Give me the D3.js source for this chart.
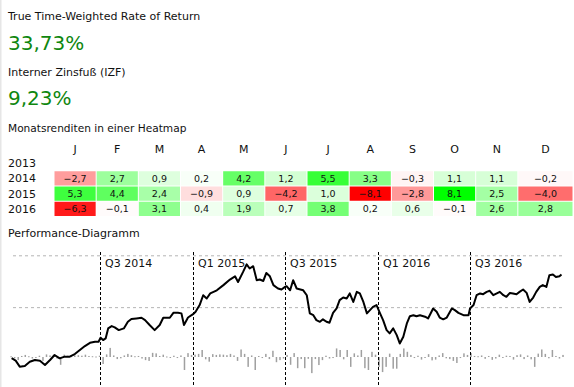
<!DOCTYPE html>
<html>
<head>
<meta charset="utf-8">
<script src="https://cdn.jsdelivr.net/npm/d3@7"></script>
<style>
    body { margin: 0; background: #fff; }
    text { font-family: "Lucida Grande", "DejaVu Sans", sans-serif; }
</style>
</head>
<body>
<div id="chart"></div>
<script>
// Kennzahlen
let ttwrorLabel = "True Time-Weighted Rate of Return";
let ttwrorValue = "33,73%";
let izfLabel = "Interner Zinsfuß (IZF)";
let izfValue = "9,23%";

// Heatmap
let months = ["J", "F", "M", "A", "M", "J", "J", "A", "S", "O", "N", "D"];
let years = [2013, 2014, 2015, 2016];
let returns2014 = [-2.7, 2.7, 0.9, 0.2, 4.2, 1.2, 5.5, 3.3, -0.3, 1.1, 1.1, -0.2];
let returns2015 = [5.3, 4.4, 2.4, -0.9, 0.9, -4.2, 1.0, -8.1, -2.8, 8.1, 2.5, -4.0];
let returns2016 = [-6.3, -0.1, 3.1, 0.4, 1.9, 0.7, 3.8, 0.2, 0.6, -0.1, 2.6, 2.8];

// Performance-Diagramm (kumulierte Rendite in %)
let perfDates = ["2014-01-07","2014-01-15","2014-01-23","2014-02-02","2014-02-12","2014-02-22","2014-03-04","2014-03-14",
    "2014-03-24","2014-04-02","2014-04-12","2014-04-22","2014-05-02","2014-05-12","2014-05-22","2014-06-01","2014-06-11",
    "2014-06-21","2014-06-28","2014-07-02","2014-07-07","2014-07-12","2014-07-17","2014-07-24","2014-07-30","2014-08-07",
    "2014-08-17","2014-08-25","2014-09-01","2014-09-11","2014-09-21","2014-09-28","2014-10-07","2014-10-17","2014-10-27",
    "2014-11-03","2014-11-16","2014-11-23","2014-12-02","2014-12-09","2014-12-14","2014-12-22","2015-01-01","2015-01-06",
    "2015-01-14","2015-01-21","2015-01-28","2015-02-04","2015-02-17","2015-03-02","2015-03-15","2015-03-25","2015-03-31",
    "2015-04-10","2015-04-17","2015-04-23","2015-04-30","2015-05-07","2015-05-13","2015-05-20","2015-05-26","2015-06-02",
    "2015-06-09","2015-06-18","2015-06-25","2015-07-02","2015-07-05","2015-07-12","2015-07-18","2015-07-25","2015-08-07",
    "2015-08-14","2015-08-20","2015-08-27","2015-09-02","2015-09-09","2015-09-15","2015-09-22","2015-09-28","2015-10-05",
    "2015-10-12","2015-10-18","2015-10-25","2015-11-01","2015-11-07","2015-11-14","2015-11-21","2015-11-27","2015-12-04",
    "2015-12-11","2015-12-17","2015-12-23","2015-12-30","2016-01-06","2016-01-12","2016-01-19","2016-01-25","2016-02-01",
    "2016-02-08","2016-02-14","2016-02-21","2016-02-28","2016-03-05","2016-03-12","2016-03-18","2016-03-25","2016-04-04",
    "2016-04-10","2016-04-20","2016-04-27","2016-05-03","2016-05-10","2016-05-17","2016-05-27","2016-06-02","2016-06-09",
    "2016-06-19","2016-06-29","2016-07-02","2016-07-09","2016-07-15","2016-07-22","2016-07-28","2016-08-04","2016-08-10",
    "2016-08-17","2016-08-24","2016-08-30","2016-09-06","2016-09-12","2016-09-19","2016-09-25","2016-10-02","2016-10-08",
    "2016-10-15","2016-10-22","2016-10-28","2016-11-04","2016-11-10","2016-11-17","2016-11-23","2016-11-30","2016-12-06",
    "2016-12-13","2016-12-19","2016-12-26","2016-12-30"];
let perfValues = [0.3,-0.65,-2.95,-2.7,-1.05,-0.4,-0.65,-2.3,
    -0.4,1.55,0.25,0.9,0.9,1.9,3.45,5.0,6.25,
    6.65,6.65,8.2,7.3,7.95,11.8,12.7,12.2,11.15,
    11.8,14.35,15.4,15.65,15.9,15.0,13.1,11.15,13.1,
    15.9,15.9,17.8,17.8,17.6,13.1,16.0,17.3,18.2,
    20.8,24.6,23.35,25.3,26.5,28.5,30.65,31.9,29.7,
    33.6,36.5,34.9,35.8,30.4,30.65,30.1,33.2,31.9,
    28.5,27.2,26.8,27.8,28.1,26.5,30.4,27.2,26.5,
    24.6,17.6,16.9,15.0,14.35,15.3,14.35,14.0,17.8,
    19.5,22.7,23.7,23.35,25.3,22.0,25.9,25.3,22.0,
    17.6,18.85,20.1,20.8,17.6,15.0,11.15,9.9,11.8,
    9.2,6.0,8.6,13.7,16.5,16.9,16.5,16.9,16.3,
    15.65,19.5,18.2,16.0,15.3,16.0,19.5,18.85,17.8,
    16.9,16.9,19.5,20.8,24.6,25.3,25.0,25.9,26.3,
    24.6,25.3,25.9,24.6,24.0,25.5,25.3,25.0,25.9,
    26.8,25.5,22.0,23.7,25.9,27.8,28.5,27.8,32.3,
    32.6,31.65,31.9,32.6];

// Wochenrenditen in % (graue Balken), ab der ersten Januarwoche 2014
let weekStart = "2014-01-06";
let weeklyReturns = [0.3,-0.5,-1.2,0.4,0.8,0.3,-0.6,-0.4,0.5,-1.5,
    1.0,0.6,0.8,-0.6,-3.0,0.9,0.5,0.3,0.6,0.7,
    0.5,0.9,0.4,0.3,0.2,0.5,-2.7,1.0,3.5,0.6,
    -0.8,-0.5,0.6,1.2,0.7,0.3,0.4,-0.6,-1.2,-1.5,
    1.6,1.4,0.4,0.9,0.2,-0.3,0.5,-0.4,0.6,-5.0,
    1.5,0.8,0.9,1.2,2.7,-0.9,-1.8,1.1,0.8,1.0,
    0.9,0.7,1.2,0.6,-1.5,2.9,1.2,-3.8,0.6,-5.0,
    0.4,-0.4,1.2,-0.8,2.4,-2.0,-1.2,-0.6,0.8,-3.0,
    1.5,-4.3,-0.8,-4.3,-0.7,-6.2,-0.8,-3.1,-1.2,0.5,
    -0.6,-0.4,3.3,2.7,-0.9,2.7,-3.8,1.4,0.6,2.7,
    -4.3,-5.0,2.0,0.9,-3.8,-5.8,-3.8,1.3,-4.5,-4.5,
    1.2,3.3,2.0,0.8,-0.4,0.5,-1.0,-0.3,1.1,-1.3,
    -1.0,0.6,1.5,-0.5,-0.8,-1.5,-2.3,-0.4,1.4,0.8,
    1.5,0.4,0.3,0.6,-0.7,0.4,-1.1,-0.6,0.9,-0.3,
    0.5,0.4,-1.0,0.7,1.0,-0.8,0.6,-0.9,-3.8,1.3,
    2.9,1.2,-0.5,2.7,0.4,-0.6,0.8];

let quarterDates = ["2014-07-01", "2015-01-01", "2015-07-01", "2016-01-01", "2016-07-01"];
let quarterLabels = ["Q3 2014", "Q1 2015", "Q3 2015", "Q1 2016", "Q3 2016"];
let gridValues = [20, 40];


let parseDate = d3.timeParse("%Y-%m-%d");
let width = 574, height = 387;

let svg = d3.select("#chart").append("svg")
    .attr("width", width)
    .attr("height", height);

// hellgrauer Rand links
svg.append("rect")
    .attr("x", 0).attr("y", 0)
    .attr("width", 1.5).attr("height", height)
    .attr("fill", "#e6e6e6");


/* * * * * * * * * * * * * *
*       Kennzahlen          *
* * * * * * * * * * * * * */

svg.append("text").attr("x", 8).attr("y", 20)
    .attr("font-size", 11).attr("fill", "#111").text(ttwrorLabel);
svg.append("text").attr("x", 8).attr("y", 50)
    .attr("font-size", 20).attr("fill", "#0f870f").text(ttwrorValue);
svg.append("text").attr("x", 8).attr("y", 76)
    .attr("font-size", 11).attr("fill", "#111").text(izfLabel);
svg.append("text").attr("x", 8).attr("y", 105)
    .attr("font-size", 20).attr("fill", "#0f870f").text(izfValue);


/* * * * * * * * * * * * * *
*       Heatmap             *
* * * * * * * * * * * * * */

svg.append("text").attr("x", 8).attr("y", 132)
    .attr("font-size", 10.6).attr("fill", "#111").text("Monatsrenditen in einer Heatmap");

let monthIdx = d3.range(months.length);
let xCol = d3.scaleBand().domain(monthIdx).range([54, 560]);
let yRow = d3.scaleBand().domain(years).range([155.5, 216.5]);

// letzte Spalte fuellt die Tabelle bis zum rechten Rand
let colLeft = i => xCol(i);
let colRight = i => i === months.length - 1 ? 573 : xCol(i) + xCol.bandwidth();

let heatColor = d3.scaleLinear()
    .domain([-7, 0, 7])
    .range(["#ff0000", "#ffffff", "#00ff00"])
    .clamp(true);

svg.append("g").selectAll("text")
    .data(monthIdx)
    .join("text")
    .attr("x", i => (colLeft(i) + colRight(i)) / 2)
    .attr("y", 153)
    .attr("text-anchor", "middle")
    .attr("font-size", 11)
    .attr("fill", "#111")
    .text(i => months[i]);

svg.append("g").selectAll("text")
    .data(years)
    .join("text")
    .attr("x", 8)
    .attr("y", d => yRow(d) + yRow.bandwidth() / 2 + 4)
    .attr("font-size", 11)
    .attr("fill", "#111")
    .text(d => d);

let cells = [];
[[2014, returns2014], [2015, returns2015], [2016, returns2016]].forEach(([yr, vals]) => {
    vals.forEach((v, i) => cells.push({year: yr, month: i, value: v}));
});

let cellG = svg.append("g").selectAll("g")
    .data(cells)
    .join("g");

cellG.append("rect")
    .attr("x", d => colLeft(d.month) + 0.5)
    .attr("y", d => yRow(d.year) + 0.5)
    .attr("width", d => colRight(d.month) - colLeft(d.month) - 1)
    .attr("height", yRow.bandwidth() - 1)
    .attr("fill", d => heatColor(d.value));

cellG.append("text")
    .attr("x", d => (colLeft(d.month) + colRight(d.month)) / 2)
    .attr("y", d => yRow(d.year) + yRow.bandwidth() / 2 + 3.5)
    .attr("text-anchor", "middle")
    .attr("font-size", 9.5)
    .attr("fill", "#111")
    .text(d => d3.format(".1f")(d.value).replace(".", ",").replace("-", "\u2212"));


/* * * * * * * * * * * * * *
*    Performance-Diagramm   *
* * * * * * * * * * * * * */

svg.append("text").attr("x", 8).attr("y", 237)
    .attr("font-size", 11).attr("fill", "#111").text("Performance-Diagramm");

let perfData = perfDates.map((d, i) => ({date: parseDate(d), value: perfValues[i]}));
let barStart = parseDate(weekStart);
let barData = weeklyReturns.map((v, i) => ({date: d3.timeDay.offset(barStart, 7 * i), value: v}));

let x = d3.scaleTime()
    .domain([parseDate("2014-01-01"), parseDate("2016-12-31")])
    .range([8.6, 562]);

let y = d3.scaleLinear()
    .domain([0, 40])
    .range([359, 255.3]);

let yBar = d3.scaleLinear()
    .domain([-6, 4])
    .range([357 + 15.6, 357 - 10.4]);

// horizontale Gitterlinien
svg.append("g")
    .attr("transform", "translate(562,0)")
    .call(d3.axisLeft(y).tickValues(gridValues).tickSize(562 - 11.5).tickFormat(""))
    .call(g => g.select(".domain").remove())
    .call(g => g.selectAll("line")
        .attr("stroke", "#b4b4b4")
        .attr("stroke-dasharray", "3,3"));

// Balken der Wochenrenditen
svg.append("g").selectAll("rect")
    .data(barData)
    .join("rect")
    .attr("x", d => x(d.date) - 0.75)
    .attr("y", d => Math.min(yBar(d.value), yBar(0)))
    .attr("width", 1.5)
    .attr("height", d => Math.max(1, Math.abs(yBar(d.value) - yBar(0))))
    .attr("fill", "#a0a0a0");

// Quartalsmarkierungen
let qG = svg.append("g").selectAll("g")
    .data(quarterDates)
    .join("g");

qG.append("line")
    .attr("x1", d => Math.round(x(parseDate(d))) + 0.5)
    .attr("x2", d => Math.round(x(parseDate(d))) + 0.5)
    .attr("y1", 252)
    .attr("y2", height)
    .attr("stroke", "#000")
    .attr("stroke-width", 1)
    .attr("stroke-dasharray", "3,2");

qG.append("text")
    .attr("x", d => Math.round(x(parseDate(d))) + 5)
    .attr("y", 267)
    .attr("font-size", 11)
    .attr("fill", "#111")
    .text((d, i) => quarterLabels[i]);

// Performance-Linie
let line = d3.line()
    .x(d => x(d.date))
    .y(d => y(d.value));

svg.append("path")
    .datum(perfData)
    .attr("d", line)
    .attr("fill", "none")
    .attr("stroke", "#000")
    .attr("stroke-width", 2)
    .attr("stroke-linejoin", "round");
</script>
</body>
</html>
